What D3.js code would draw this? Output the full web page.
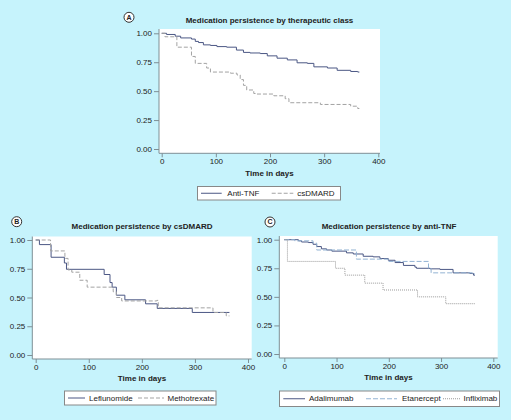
<!DOCTYPE html>
<html><head><meta charset="utf-8">
<script src="https://cdn.jsdelivr.net/npm/d3@7"></script>
<style>
html,body{margin:0;padding:0;background:#c6f3fc;}
svg{display:block;font-family:"Liberation Sans",Arial,sans-serif;}
</style></head>
<body>
<svg id="c" width="511" height="420"></svg>
<script>
// ---- data (day, persistence) ----
const xTicks = [0, 100, 200, 300, 400];
const yTicks = [0, 0.25, 0.5, 0.75, 1];

const antiTNF = [[0,1],[9,0.99],[25,0.975],[35,0.96],[55,0.95],[62,0.93],[68,0.92],[77,0.90],[90,0.895],[102,0.885],[120,0.88],[138,0.855],[151,0.835],[163,0.83],[182,0.825],[195,0.805],[213,0.785],[232,0.77],[250,0.745],[269,0.74],[281,0.71],[306,0.70],[324,0.68],[349,0.67],[362,0.665],[365,0.665]];
const csDMARD = [[0,1],[6,0.97],[28,0.88],[55,0.80],[62,0.74],[83,0.70],[90,0.665],[127,0.655],[139,0.64],[145,0.60],[151,0.55],[157,0.51],[170,0.48],[176,0.475],[207,0.46],[228,0.435],[235,0.40],[293,0.385],[349,0.37],[362,0.35],[365,0.35]];

const leflunomide = [[0,1],[7,0.96],[29,0.85],[54,0.80],[58,0.745],[129,0.70],[140,0.63],[144,0.59],[152,0.52],[168,0.48],[207,0.445],[229,0.405],[295,0.37],[365,0.37]];
const methotrexate = [[0,1],[28,0.905],[55,0.84],[61,0.74],[68,0.72],[83,0.65],[97,0.59],[146,0.55],[152,0.50],[162,0.47],[228,0.475],[231,0.41],[334,0.37],[359,0.34],[365,0.34]];

const adalimumab = [[0,1],[27,0.99],[33,0.98],[46,0.975],[55,0.96],[62,0.94],[71,0.92],[81,0.91],[91,0.90],[119,0.885],[132,0.875],[151,0.855],[170,0.85],[183,0.835],[199,0.82],[212,0.80],[228,0.775],[250,0.76],[253,0.75],[279,0.745],[298,0.74],[323,0.71],[355,0.705],[362,0.69],[365,0.69]];
const etanercept = [[0,1],[20,0.99],[55,0.97],[62,0.91],[138,0.83],[199,0.81],[276,0.75],[281,0.71],[360,0.70],[365,0.70]];
const infliximab = [[0,1],[6,0.81],[98,0.75],[116,0.69],[154,0.62],[189,0.56],[255,0.50],[309,0.44],[365,0.44]];

const titles = ["Medication persistence by therapeutic class","Medication persistence by csDMARD","Medication persistence by anti-TNF"];
const xLabel = "Time in days";

const svg = d3.select("#c");
const DARK = "#4b5784";
const styles = {
  solid:{stroke:DARK, dash:null},
  dashed:{stroke:"#a3a3a3", dash:"4,2"},
  dashedBlue:{stroke:"#93b3d3", dash:"5,2"},
  dotted:{stroke:"#9a9a9a", dash:"1,1"}
};

function panel(cfg){
  const g = svg.append("g");
  const x = d3.scaleLinear().domain([0,400]).range([cfg.x0, cfg.x400]);
  const y = d3.scaleLinear().domain([0,1]).range([cfg.y0, cfg.y1]);
  g.append("rect").attr("x",cfg.axX).attr("y",cfg.top).attr("width",cfg.right-cfg.axX).attr("height",cfg.axY-cfg.top).attr("fill","#fff");
  const ya = d3.axisLeft(y).tickValues(yTicks).tickFormat(d3.format(".2f")).tickSize(5).tickPadding(2);
  const gy = g.append("g").attr("transform",`translate(${cfg.axX},0)`).call(ya);
  gy.select(".domain").attr("d",`M-0,${cfg.axY}V${cfg.top}`);
  const xa = d3.axisBottom(x).tickValues(xTicks).tickSize(4).tickPadding(1);
  const gx = g.append("g").attr("transform",`translate(0,${cfg.axY})`).call(xa);
  gx.select(".domain").attr("d",`M${cfg.axX},0H${cfg.right}`);
  [gx,gy].forEach(a=>{
    a.selectAll(".domain,.tick line").attr("stroke","#7f8f95").attr("stroke-width",1);
    a.selectAll("text").attr("fill","#222").style("font-size","8px").style("font-family","Liberation Sans, Arial, sans-serif");
  });
  const line = d3.line().x(d=>x(d[0])).y(d=>y(d[1])).curve(d3.curveStepAfter);
  cfg.series.forEach(s=>{
    const st = styles[s.style];
    g.append("path").datum(s.data).attr("d",line).attr("fill","none")
      .attr("stroke",st.stroke).attr("stroke-width",1).attr("stroke-dasharray",st.dash);
  });
  g.append("text").attr("x",cfg.titleX).attr("y",cfg.titleY).attr("text-anchor","middle")
    .attr("dominant-baseline","middle").style("font-size","8px").style("font-weight","bold").attr("fill","#222").text(cfg.title);
  g.append("text").attr("x",(cfg.axX+cfg.right)/2).attr("y",cfg.xlabY).attr("text-anchor","middle")
    .attr("dominant-baseline","middle").style("font-size","8px").style("font-weight","bold").attr("fill","#222").text(xLabel);
  g.append("circle").attr("cx",cfg.lx).attr("cy",cfg.ly).attr("r",5).attr("fill","#fff").attr("stroke","#333").attr("stroke-width",1);
  g.append("text").attr("x",cfg.lx).attr("y",cfg.ly+0.5).attr("text-anchor","middle").attr("dominant-baseline","middle")
    .style("font-size","7px").style("font-weight","bold").attr("fill","#222").text(cfg.letter);
  const L = cfg.legend;
  g.append("rect").attr("x",L.x).attr("y",L.y).attr("width",L.w).attr("height",L.h).attr("fill","#fff").attr("stroke","#888").attr("stroke-width",1);
  const cy = L.y + L.h/2;
  L.items.forEach((it,i)=>{
    const st = styles[cfg.series[i].style];
    g.append("line").attr("x1",it.l0).attr("x2",it.l1).attr("y1",cy).attr("y2",cy)
      .attr("stroke",st.stroke).attr("stroke-width",1).attr("stroke-dasharray",st.dash);
    g.append("text").attr("x",it.t).attr("y",cy+0.5).attr("dominant-baseline","middle")
      .style("font-size","8px").attr("fill","#222").text(cfg.series[i].name);
  });
}

panel({x0:161.7,x400:378.3,y0:149,y1:33.3,axX:159,axY:153.3,top:29,right:380,
  title:titles[0],titleX:269.5,titleY:20.7,xlabY:173.5,letter:"A",lx:129,ly:17.3,
  series:[{name:"Anti-TNF",data:antiTNF,style:"solid"},{name:"csDMARD",data:csDMARD,style:"dashed"}],
  legend:{x:197.5,y:186.5,w:143,h:13.5,items:[{l0:201,l1:221.7,t:227.3},{l0:271.7,l1:293.3,t:297.3}]}});

panel({x0:35.7,x400:248,y0:355,y1:240,axX:32.3,axY:359,top:236.5,right:251.7,
  title:titles[1],titleX:142,titleY:227,xlabY:379,letter:"B",lx:16.7,ly:221.7,
  series:[{name:"Leflunomide",data:leflunomide,style:"solid"},{name:"Methotrexate",data:methotrexate,style:"dashed"}],
  legend:{x:64.5,y:391,w:151.5,h:14,items:[{l0:68,l1:85,t:89},{l0:138,l1:164,t:167.5}]}});

panel({x0:284.3,x400:493.3,y0:354,y1:239.7,axX:279.3,axY:358,top:236,right:497.7,
  title:titles[2],titleX:389,titleY:227,xlabY:377.5,letter:"C",lx:270,ly:222,
  series:[{name:"Adalimumab",data:adalimumab,style:"solid"},{name:"Etanercept",data:etanercept,style:"dashedBlue"},{name:"Infliximab",data:infliximab,style:"dotted"}],
  legend:{x:279.5,y:391,w:220,h:15.5,items:[{l0:283.3,l1:305,t:309},{l0:366,l1:397,t:402},{l0:443,l1:460,t:463.5}]}});
</script>
</body></html>
